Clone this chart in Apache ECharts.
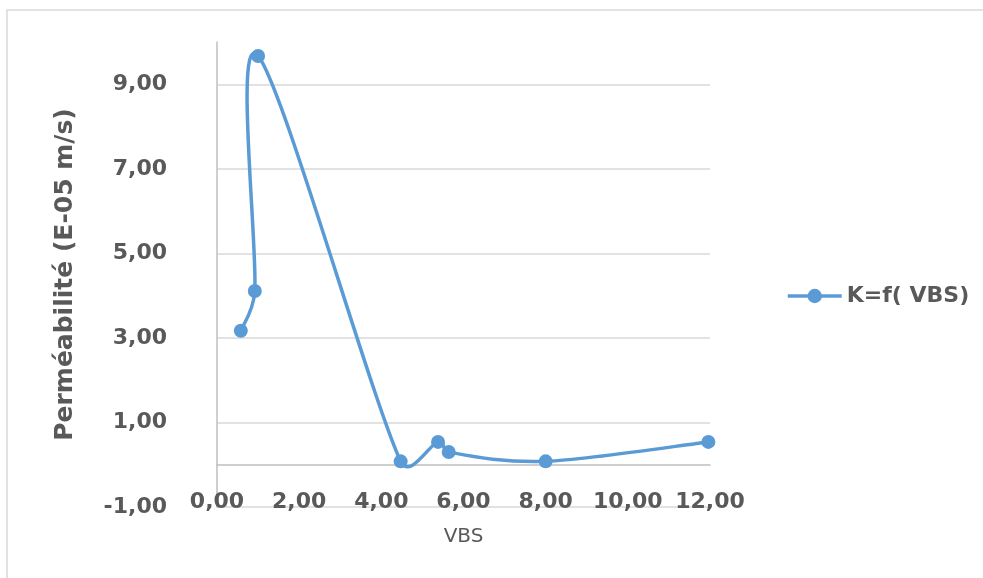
<!DOCTYPE html>
<html>
<head>
<meta charset="utf-8">
<script src="https://cdn.jsdelivr.net/npm/echarts@6/dist/echarts.min.js"></script>
<style>
html,body{margin:0;padding:0;background:#fff;}
#chart{width:983px;height:578px;}
</style>
</head>
<body>
<div id="chart"></div>
<script>
const seriesName = 'K=f( VBS)';
const vbs = [0.58, 0.92, 1.00, 4.47, 5.38, 5.64, 8.00, 11.96];
const permeabilite = [3.17, 4.11, 9.67, 0.08, 0.54, 0.30, 0.08, 0.54];
const xTicks = [0, 2, 4, 6, 8, 10, 12];
const yTicks = [-1, 1, 3, 5, 7, 9];

const fmt = v => v.toFixed(2).replace('.', ',');
const FONT = 'DejaVu Sans';
const GREY = '#595959';
const BLUE = '#5B9BD5';
const points = vbs.map((x, i) => [x, permeabilite[i]]);

// Excel-like smoothed line (Catmull-Rom 1/6 tangent, control length capped at half the segment),
// computed in pixel space through the axes
function ctrl(from, vx, vy, segLen, sign) {
  let lx = vx / 6, ly = vy / 6;
  const len = Math.hypot(lx, ly);
  const cap = segLen / 2;
  if (len > cap && len > 0) { lx *= cap / len; ly *= cap / len; }
  return [from[0] + sign * lx, from[1] + sign * ly];
}
function renderSmooth(params, api) {
  if (params.dataIndex !== 0) return null;
  const p = points.map(d => api.coord(d));
  const n = p.length;
  const children = [];
  for (let i = 0; i < n - 1; i++) {
    const p0 = p[Math.max(i - 1, 0)], p1 = p[i], p2 = p[i + 1], p3 = p[Math.min(i + 2, n - 1)];
    const seg = Math.hypot(p2[0] - p1[0], p2[1] - p1[1]);
    const c1 = ctrl(p1, p2[0] - p0[0], p2[1] - p0[1], seg, 1);
    const c2 = ctrl(p2, p3[0] - p1[0], p3[1] - p1[1], seg, -1);
    children.push({
      type: 'bezierCurve',
      shape: {x1: p1[0], y1: p1[1], x2: p2[0], y2: p2[1], cpx1: c1[0], cpy1: c1[1], cpx2: c2[0], cpy2: c2[1]},
      style: {fill: null, stroke: BLUE, lineWidth: 3.5, lineCap: 'round', lineJoin: 'round'}
    });
  }
  return {type: 'group', children: children};
}

const chart = echarts.init(document.getElementById('chart'), null, {renderer: 'canvas'});
chart.setOption({
  animation: false,
  backgroundColor: '#fff',
  graphic: [{
    type: 'polyline',
    shape: {points: [[7, 600], [7, 10], [1000, 10]]},
    style: {fill: null, stroke: '#D9D9D9', lineWidth: 1.5},
    silent: true
  }],
  grid: {left: 217, right: 273, top: 42, bottom: 71, containLabel: false, outerBoundsMode: 'none'},
  legend: {
    data: [seriesName],
    left: 781, top: 280,
    itemWidth: 54, itemHeight: 18, itemGap: 6,
    lineStyle: {color: BLUE, width: 3.5, opacity: 1},
    itemStyle: {color: BLUE, opacity: 1},
    textStyle: {fontFamily: FONT, fontWeight: 'bold', fontSize: 22, color: GREY}
  },
  xAxis: {
    type: 'value',
    min: xTicks[0], max: xTicks[xTicks.length - 1], interval: 2,
    name: 'VBS', nameLocation: 'middle', nameGap: 20,
    nameTextStyle: {fontFamily: FONT, fontSize: 20, color: GREY},
    axisLine: {show: true, onZero: true, lineStyle: {color: '#BFBFBF', width: 1.5}},
    axisTick: {show: false},
    splitLine: {show: false},
    axisLabel: {margin: -16, fontFamily: FONT, fontWeight: 'bold', fontSize: 22, color: GREY, formatter: fmt}
  },
  yAxis: {
    type: 'value',
    min: yTicks[0], max: 10, interval: 2,
    name: 'Perméabilité (E-05 m/s)', nameLocation: 'middle', nameGap: 139,
    nameTextStyle: {fontFamily: FONT, fontWeight: 'bold', fontSize: 25, color: GREY},
    axisLine: {show: true, onZero: false, lineStyle: {color: '#BFBFBF', width: 1.5}},
    axisTick: {show: false},
    splitLine: {show: true, showMaxLine: false, lineStyle: {color: '#D9D9D9', width: 1.5}},
    axisLabel: {margin: 50, showMaxLabel: false, fontFamily: FONT, fontWeight: 'bold', fontSize: 22, color: GREY, formatter: fmt}
  },
  series: [{
    name: 'courbe',
    type: 'custom',
    renderItem: renderSmooth,
    data: points,
    z: 2,
    silent: true
  }, {
    name: seriesName,
    type: 'line',
    symbol: 'circle',
    symbolSize: 14,
    lineStyle: {color: BLUE, width: 3.5, opacity: 0},
    itemStyle: {color: BLUE},
    data: points,
    z: 3
  }]
});
</script>
</body>
</html>
